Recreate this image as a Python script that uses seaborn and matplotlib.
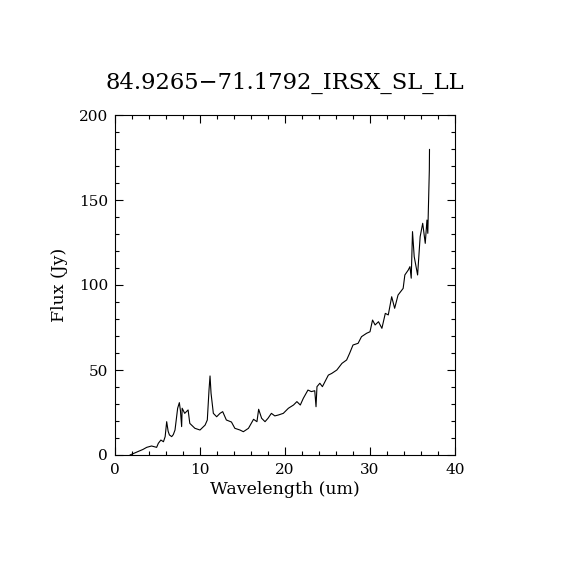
import numpy as np
import pandas as pd
import matplotlib
matplotlib.use("Agg")
import matplotlib.pyplot as plt
from matplotlib.ticker import MultipleLocator
import seaborn as sns

# -------------------- data --------------------
wavelength = [1.76, 3.3, 3.73, 4.3, 4.9, 5.1, 5.4, 5.7, 5.9, 6.08, 6.25, 6.4, 6.67, 6.86,
              7.06, 7.37, 7.57, 7.7, 7.84, 7.9, 8.2, 8.6, 8.8, 9.4, 10.0, 10.6, 10.86,
              11.06, 11.18, 11.3, 11.57, 11.96, 12.35, 12.67, 13.1, 13.7, 14.1, 14.7,
              15.1, 15.7, 16.3, 16.7, 16.9, 17.25, 17.65, 18.0, 18.4, 18.8, 19.2, 19.8,
              20.4, 21.0, 21.4, 21.8, 22.15, 22.7, 23.1, 23.5, 23.65, 23.76, 24.1, 24.4,
              25.1, 25.5, 26.1, 26.7, 27.25, 27.6, 28.0, 28.6, 29.0, 29.6, 30.0, 30.3,
              30.6, 31.0, 31.4, 31.8, 32.15, 32.55, 32.9, 33.3, 33.9, 34.1, 34.5, 34.7,
              34.85, 35.0, 35.2, 35.6, 35.9, 36.2, 36.5, 36.7, 36.8, 36.86, 36.98, 37.0]
flux = [0.0, 3.3, 4.5, 5.3, 4.5, 6.9, 8.8, 7.8, 10.8, 19.6, 14.0, 11.8, 10.8, 12.0,
        14.7, 27.5, 30.8, 26.0, 16.7, 27.5, 24.5, 26.5, 18.6, 15.7, 14.7, 17.6, 20.6,
        38.2, 46.5, 36.3, 24.5, 22.5, 24.5, 25.5, 20.6, 19.4, 15.7, 14.7,
        13.7, 15.7, 21.0, 19.6, 26.9, 21.6, 19.6, 21.6, 24.5, 23.0, 23.5, 24.5,
        27.5, 29.4, 31.4, 29.4, 33.3, 38.2, 37.3, 37.8, 28.4, 40.2, 42.2, 40.2,
        47.0, 48.0, 50.0, 53.9, 55.9, 59.8, 64.7, 65.7, 69.6, 71.6, 72.5, 79.4,
        76.5, 78.4, 74.5, 83.3, 82.4, 93.1, 86.3, 94.1, 98.0, 105.9, 108.8, 110.8,
        104.0, 131.4, 116.7, 105.9, 128.4, 136.3, 124.5, 138.2, 130.4, 143.1, 167.6, 179.8]

title = "84.9265\u221271.1792_IRSX_SL_LL"

df = pd.DataFrame({"wavelength": wavelength, "flux": flux})

# -------------------- plot --------------------
sns.set_style("ticks")
plt.rcParams["font.family"] = ["DejaVu Serif"]
plt.rcParams["text.color"] = "black"
plt.rcParams["axes.labelcolor"] = "black"

fig = plt.figure(figsize=(5.7, 5.7), dpi=100)
ax = fig.add_axes([115 / 570, 115 / 570, 340 / 570, 340 / 570])

sns.lineplot(data=df, x="wavelength", y="flux", color="black", linewidth=0.8,
             sort=False, estimator=None, ax=ax)

ax.set_xlim(0, 40)
ax.set_ylim(0, 200)
ax.xaxis.set_major_locator(MultipleLocator(10))
ax.xaxis.set_minor_locator(MultipleLocator(2))
ax.yaxis.set_major_locator(MultipleLocator(50))
ax.yaxis.set_minor_locator(MultipleLocator(10))
ax.tick_params(which="both", direction="in", top=True, right=True, width=0.8,
               labelsize=11, colors="black")
ax.tick_params(which="major", length=6)
ax.tick_params(which="minor", length=3)
ax.tick_params(axis="y", pad=5)
ax.tick_params(axis="x", pad=6)
for s in ax.spines.values():
    s.set_linewidth(0.8)
    s.set_color("black")

ax.set_xlabel("Wavelength (um)", fontsize=12.5, labelpad=3, color="black")
ax.set_ylabel("Flux (Jy)", fontsize=12.5, labelpad=8, color="black")
ax.set_title(title, fontsize=16.3, pad=19, color="black")

fig.savefig("out.png", dpi=100, facecolor="white")
